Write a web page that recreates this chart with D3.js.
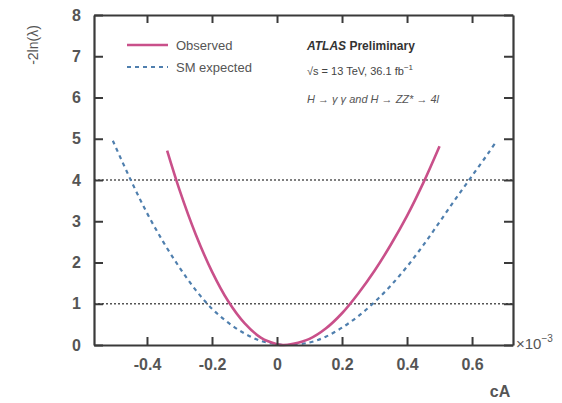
<!DOCTYPE html>
<html>
<head>
<meta charset="utf-8">
<script src="https://cdn.jsdelivr.net/npm/d3@7"></script>
<style>
  body { margin: 0; background: #fff; }
  svg { font-family: "Liberation Sans", Arial, sans-serif; }
</style>
</head>
<body>
<div id="chart"></div>
<script>
// observed likelihood scan
const obsX = [-0.338, -0.30, -0.25, -0.20, -0.15, -0.10, -0.05, 0.00, 0.02, 0.05, 0.10, 0.15, 0.20, 0.25, 0.30, 0.35, 0.40, 0.45, 0.50];
const obsY = [4.71, 3.76, 2.68, 1.78, 1.06, 0.53, 0.18, 0.02, 0.00, 0.03, 0.15, 0.40, 0.77, 1.25, 1.80, 2.43, 3.13, 3.93, 4.82];

// SM expected scan
const expX = [-0.505, -0.45, -0.40, -0.35, -0.30, -0.25, -0.20, -0.15, -0.10, -0.05, 0.00, 0.03, 0.10, 0.15, 0.20, 0.25, 0.30, 0.35, 0.40, 0.45, 0.50, 0.55, 0.60, 0.65, 0.67];
const expY = [4.95, 4.00, 3.20, 2.50, 1.88, 1.33, 0.88, 0.54, 0.28, 0.10, 0.02, 0.00, 0.06, 0.20, 0.42, 0.70, 1.04, 1.44, 1.90, 2.42, 2.98, 3.55, 4.10, 4.65, 4.88];

const xTicks = [-0.4, -0.2, 0, 0.2, 0.4, 0.6];
const yTicks = [0, 1, 2, 3, 4, 5, 6, 7, 8];
const refLevels = [1, 4];
const legendLabels = ["Observed", "SM expected"];

const pink = "#c9508a";
const blue = "#4f7fae";
const axisColor = "#3a3a3a";
const textColor = "#555";

let dimensions = {
  width: 562,
  height: 403,
  margin: { top: 15, right: 49, bottom: 58, left: 94 },
};
dimensions.boundedWidth =
  dimensions.width - dimensions.margin.left - dimensions.margin.right;
dimensions.boundedHeight =
  dimensions.height - dimensions.margin.top - dimensions.margin.bottom;

const wrapper = d3
  .select("#chart")
  .append("svg")
  .attr("width", dimensions.width)
  .attr("height", dimensions.height);

const bounds = wrapper
  .append("g")
  .attr("transform", `translate(${dimensions.margin.left}, ${dimensions.margin.top})`);

// scales
const xScale = d3
  .scaleLinear()
  .domain([-0.563, 0.726])
  .range([0, dimensions.boundedWidth]);

const yScale = d3
  .scaleLinear()
  .domain([0, 8])
  .range([dimensions.boundedHeight, 0]);

const obsData = obsX.map((x, i) => ({ x: x, y: obsY[i] }));
const expData = expX.map((x, i) => ({ x: x, y: expY[i] }));

const lineGenerator = d3
  .line()
  .x((d) => xScale(d.x))
  .y((d) => yScale(d.y))
  .curve(d3.curveCatmullRom);

// reference lines at 1 and 4
bounds
  .selectAll(".ref")
  .data(refLevels)
  .enter()
  .append("line")
  .attr("x1", 0)
  .attr("x2", dimensions.boundedWidth)
  .attr("y1", (d) => yScale(d))
  .attr("y2", (d) => yScale(d))
  .attr("stroke", "#555")
  .attr("stroke-width", 1.6)
  .attr("stroke-dasharray", "2,2");

// curves
bounds
  .append("path")
  .datum(expData)
  .attr("d", lineGenerator)
  .attr("fill", "none")
  .attr("stroke", blue)
  .attr("stroke-width", 2.2)
  .attr("stroke-dasharray", "4,4");

bounds
  .append("path")
  .datum(obsData)
  .attr("d", lineGenerator)
  .attr("fill", "none")
  .attr("stroke", pink)
  .attr("stroke-width", 2.6);

// axes
const xAxisBottom = bounds
  .append("g")
  .attr("transform", `translate(0, ${dimensions.boundedHeight})`)
  .call(d3.axisBottom(xScale).tickValues(xTicks).tickSizeInner(-8).tickSizeOuter(0).tickPadding(14).tickFormat((d) => d));

const xAxisTop = bounds
  .append("g")
  .call(d3.axisTop(xScale).tickValues(xTicks).tickSizeInner(-8).tickSizeOuter(0).tickFormat(""));

const yAxisLeft = bounds
  .append("g")
  .call(d3.axisLeft(yScale).tickValues(yTicks).tickSizeInner(-9).tickSizeOuter(0).tickPadding(13).tickFormat(d3.format("d")));

const yAxisRight = bounds
  .append("g")
  .attr("transform", `translate(${dimensions.boundedWidth}, 0)`)
  .call(d3.axisRight(yScale).tickValues(yTicks).tickSizeInner(-9).tickSizeOuter(0).tickFormat(""));

[xAxisBottom, xAxisTop, yAxisLeft, yAxisRight].forEach((ax) => {
  ax.select(".domain").attr("stroke", axisColor).attr("stroke-width", 2.2);
  ax.selectAll(".tick line").attr("stroke", axisColor).attr("stroke-width", 2);
  ax.selectAll(".tick text")
    .attr("fill", textColor)
    .style("font-size", "16px")
    .style("font-weight", "bold");
});

// axis titles
wrapper
  .append("text")
  .attr("transform", "translate(38, 45) rotate(-90)")
  .attr("text-anchor", "middle")
  .attr("fill", textColor)
  .style("font-size", "14px")
  .text("-2ln(λ)");

wrapper
  .append("text")
  .attr("x", 500)
  .attr("y", 397)
  .attr("text-anchor", "middle")
  .attr("fill", textColor)
  .style("font-size", "16px")
  .style("font-weight", "bold")
  .text("cA");

const expLabel = wrapper
  .append("text")
  .attr("x", 516)
  .attr("y", 349)
  .attr("fill", textColor)
  .style("font-size", "15px");
expLabel.append("tspan").text("×10");
expLabel.append("tspan").attr("dy", -7).style("font-size", "10px").text("−3");

// legend
const legend = wrapper.append("g");
legend
  .append("line")
  .attr("x1", 127).attr("x2", 168)
  .attr("y1", 45).attr("y2", 45)
  .attr("stroke", pink)
  .attr("stroke-width", 2.6);
legend
  .append("line")
  .attr("x1", 127).attr("x2", 168)
  .attr("y1", 67).attr("y2", 67)
  .attr("stroke", blue)
  .attr("stroke-width", 2.2)
  .attr("stroke-dasharray", "4,4");
legend
  .selectAll(".lab")
  .data(legendLabels)
  .enter()
  .append("text")
  .attr("x", 176)
  .attr("y", (d, i) => 50 + i * 22)
  .attr("fill", textColor)
  .style("font-size", "13px")
  .text((d) => d);

// ATLAS label block
const atlas = wrapper
  .append("text")
  .attr("x", 307)
  .attr("y", 50)
  .attr("fill", "#333")
  .style("font-size", "12px")
  .style("font-weight", "bold");
atlas.append("tspan").style("font-style", "italic").text("ATLAS");
atlas.append("tspan").text(" Preliminary");

const energy = wrapper
  .append("text")
  .attr("x", 307)
  .attr("y", 75)
  .attr("fill", "#444")
  .style("font-size", "11px");
energy.append("tspan").text("√s = 13 TeV, 36.1 fb");
energy.append("tspan").attr("dy", -5).style("font-size", "8px").text("−1");

wrapper
  .append("text")
  .attr("x", 307)
  .attr("y", 103)
  .attr("fill", "#555")
  .style("font-size", "11px")
  .style("font-style", "italic")
  .text("H → γ γ and H → ZZ* → 4l");
</script>
</body>
</html>
